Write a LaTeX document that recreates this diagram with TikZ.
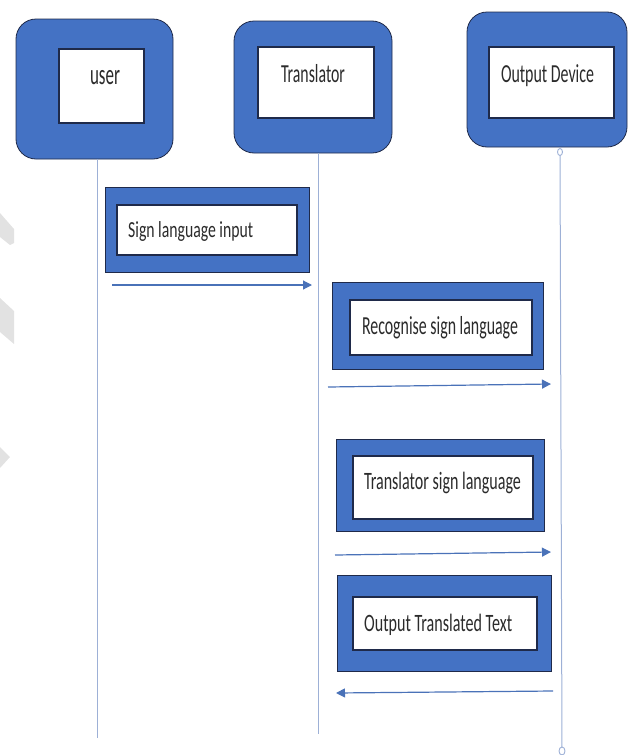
\documentclass[tikz,border=0pt]{standalone}
\usepackage{fontspec}
\setmainfont{Carlito}
\usetikzlibrary{arrows.meta}

\definecolor{boxblue}{HTML}{4472C4}
\definecolor{navy}{HTML}{1F2A4A}
\definecolor{life}{HTML}{9DB0D6}
\definecolor{msg}{HTML}{4A72B8}
\definecolor{ink}{HTML}{2B2B2B}
\definecolor{faint}{HTML}{E2E2E2}

% label set at a given size (#1), narrowed to a given width (#2)
\newcommand{\narrowtext}[3]{\resizebox{#2pt}{\height}{\fontsize{#1}{#1}\selectfont #3}}

\tikzset{
  actor/.style={draw=navy, line width=0.8pt, fill=boxblue, rounded corners=20pt, inner sep=0pt},
  actbox/.style={draw=navy, line width=0.8pt, fill=boxblue, inner sep=0pt},
  inbox/.style={draw=navy, line width=1.5pt, fill=white, inner sep=0pt},
  txt/.style={inner sep=0pt, text=ink, anchor=base},
  txtl/.style={inner sep=0pt, text=ink, anchor=base west},
  lifeline/.style={draw=life, line width=1pt},
  message/.style={draw=msg, line width=1.2pt, -{Triangle[length=9pt,width=9pt]}},
  endmark/.style={draw=life, line width=0.9pt, fill=white},
}

\begin{document}
\begin{tikzpicture}[x=1pt, y=-1pt]
\useasboundingbox (0,0) rectangle (636,755);

% faint fragments along the left edge
\fill[faint] (0,213) -- (14,229) -- (14,243) -- (10,245) -- (0,237) -- cycle;
\fill[faint] (0,298) -- (14,311) -- (14,344) -- (0,332) -- cycle;
\fill[faint] (0,447) -- (10,457) -- (0,468) -- cycle;

% participants
\node[actor, minimum width=157pt, minimum height=140pt] (user) at (94.5,89) {};
\node[inbox, minimum width=85pt, minimum height=74pt] (userIn) at (101.5,86) {};
\node[txt] (userTxt) at (105,84) {\narrowtext{29}{30}{user}};

\node[actor, minimum width=158pt, minimum height=132pt] (trans) at (313,87) {};
\node[inbox, minimum width=116pt, minimum height=71pt] (transIn) at (316,82.5) {};
\node[txt] (transTxt) at (313,82) {\narrowtext{26}{64}{Translator}};

\node[actor, minimum width=160pt, minimum height=135pt] (out) at (547,79.5) {};
\node[inbox, minimum width=125pt, minimum height=71pt] (outIn) at (551.5,82.5) {};
\node[txt] (outTxt) at (547.5,82) {\narrowtext{26}{93}{Output Device}};

% lifelines
\coordinate (userEnd) at (97,738);
\coordinate (transEnd) at (318,734);
\coordinate (outTop) at (560,152);
\coordinate (outBot) at (562,751);
\draw[lifeline] (user.south -| userEnd) -- (userEnd);
\draw[lifeline] (trans.south -| transEnd) -- (transEnd);
\draw[lifeline] (outTop) -- (outBot);
\draw[endmark] (outTop) ellipse [x radius=2.5pt, y radius=3.5pt];
\draw[endmark] (outBot) ellipse [x radius=3pt, y radius=4pt];

% activation boxes
\node[actbox, minimum width=204pt, minimum height=85pt] (a1) at (207,229.5) {};
\node[inbox, minimum width=180pt, minimum height=50pt] (a1In) at (207,230) {};
\node[txtl] (a1Txt) at (128,237) {\narrowtext{23}{125}{Sign language input}};

\node[actbox, minimum width=211pt, minimum height=87pt] (a2) at (437.5,325.5) {};
\node[inbox, minimum width=182pt, minimum height=55pt] (a2In) at (441,327.5) {};
\node[txt] (a2Txt) at (440,334) {\narrowtext{26}{156}{Recognise sign language}};

\node[actbox, minimum width=208pt, minimum height=92pt] (a3) at (440,485) {};
\node[inbox, minimum width=180pt, minimum height=63pt] (a3In) at (443,487.5) {};
\node[txt] (a3Txt) at (442.5,489) {\narrowtext{25}{157}{Translator sign language}};

\node[actbox, minimum width=214pt, minimum height=96pt] (a4) at (444,623) {};
\node[inbox, minimum width=184pt, minimum height=53pt] (a4In) at (445,623.5) {};
\node[txtl] (a4Txt) at (364,631) {\narrowtext{25}{148}{Output Translated Text}};

% messages
\coordinate (m1s) at (112,285);
\coordinate (m1e) at (312,285);
\coordinate (m2s) at (328,387);
\coordinate (m2e) at (551,384);
\coordinate (m3s) at (335,555);
\coordinate (m3e) at (551,552);
\coordinate (m4s) at (553,691);
\coordinate (m4e) at (336,693);
\draw[message] (m1s) -- (m1e);
\draw[message] (m2s) -- (m2e);
\draw[message] (m3s) -- (m3e);
\draw[message] (m4s) -- (m4e);
\end{tikzpicture}
\end{document}
